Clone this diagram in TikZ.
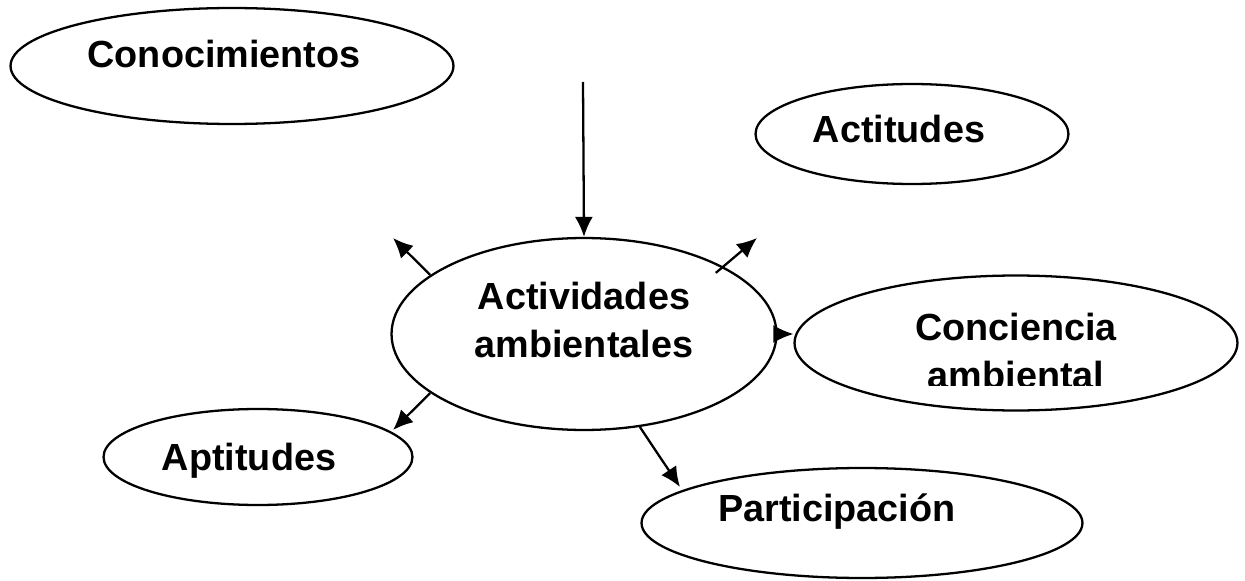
\documentclass[tikz,border=0pt]{standalone}
\usepackage{fontspec}
\setmainfont{Liberation Sans}
\usetikzlibrary{arrows.meta,shapes.geometric}

\begin{document}
\begin{tikzpicture}[x=0.02cm,y=-0.02cm,% one unit = one pixel of the sketch
		oval/.style={ellipse,draw=black,line width=1.3pt,inner sep=0pt},
		lbl/.style={font=\fontsize{21.5}{27.3}\selectfont\bfseries,align=center,inner sep=0pt,anchor=base},
		arr/.style={line width=1.3pt,-{Latex[length=0.4cm,width=0.36cm]}}
	]
	\useasboundingbox (0,0) rectangle (1245,581);
	% the ovals
	\node[oval,minimum width=8.86cm,minimum height=2.32cm](conoc) at (232,66) {};
	\node[oval,minimum width=6.26cm,minimum height=2.0cm](actit) at (912,134) {};
	\node[oval,minimum width=7.7cm,minimum height=3.84cm](activ) at (584,334) {};
	\node[oval,minimum width=8.86cm,minimum height=2.7cm](conci) at (1016,343) {};
	\node[oval,minimum width=6.18cm,minimum height=1.92cm](aptit) at (258,457) {};
	\node[oval,minimum width=8.82cm,minimum height=2.2cm](parti) at (862,523) {};
	% the texts (base = last line)
	\node[lbl](tconoc) at (224,68) {Conocimientos};
	\node[lbl](tactit) at (899,143) {Actitudes};
	\node[lbl](tactiv) at (584,357) {Actividades\\ambientales};
	\node[lbl](taptit) at (249,470) {Aptitudes};
	\node[lbl](tparti) at (837,521) {Participación};
	\begin{scope}
		\clip (795,250) rectangle (1240,385); % the second line is cut off
		\node[lbl](tconci) at (1016,388) {Conciencia\\ambiental};
	\end{scope}
	% free ends of the arrows
	\coordinate (top) at (583,82);
	\coordinate (ul) at (393,238);
	\coordinate (ur) at (757,238);
	\coordinate (dl) at (393,430);
	\coordinate (dr) at (680,487);
	\draw[arr] (top) -- (activ.north);
	\draw[arr] (activ.159) -- (ul);
	\draw[arr] ([shift={(-10,5)}]activ.25) -- (ur);
	\draw[arr] (activ.east) -- (activ.east -| conci.west);
	\draw[arr] (activ.201) -- (dl);
	\draw[arr] (activ.-59) -- (dr);
\end{tikzpicture}
\end{document}
